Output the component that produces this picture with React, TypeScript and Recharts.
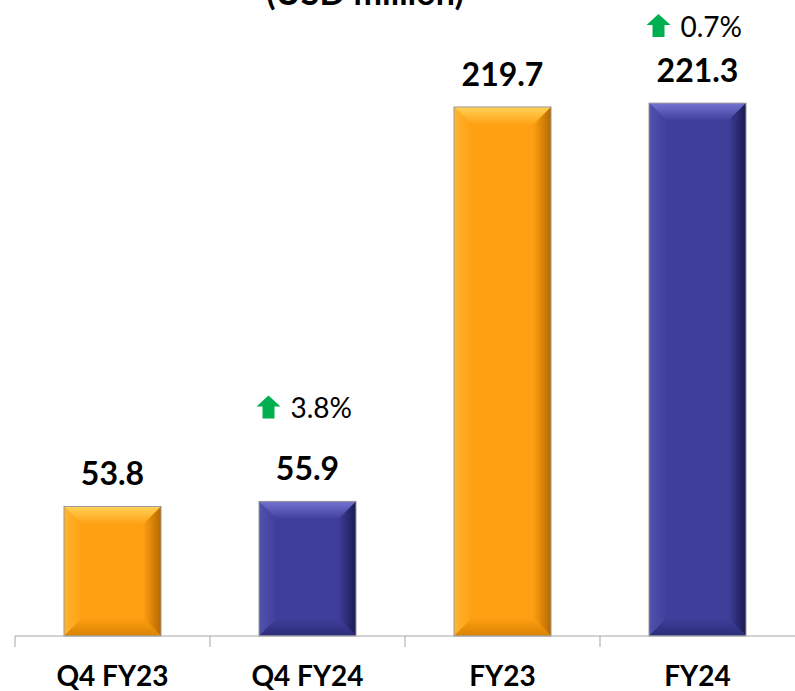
import React from "react";
import { Bar, BarChart, Customized, LabelList, XAxis, YAxis } from "recharts";

const CATEGORIES = ["Q4 FY23", "Q4 FY24", "FY23", "FY24"];
const VALUES = [53.8, 55.9, 219.7, 221.3];
const CHANGES: (number | null)[] = [null, 3.8, null, 0.7];

const W = 795;
const H = 691;
const LEFT = 15;
const TOP = 34;
const XAXIS_H = 55;
const AXIS_Y = H - XAXIS_H;
const BAND = (W - LEFT) / CATEGORIES.length;
const FONT = "Lato, 'Open Sans', sans-serif";
// distance from value baseline up to the % change baseline, per bar
const PCT_GAP = [0, 62, 0, 45];

const TONES = [
  { face: "#FFA012", top: "#FFD257", left: "#FFB530", right: "#B56800", bottom: "#D88300" },
  { face: "#3F3F9B", top: "#7474D0", left: "#5151AE", right: "#1A1A52", bottom: "#2C2C78" },
];

const data = CATEGORIES.map((name, i) => ({ name, value: VALUES[i], change: CHANGES[i] }));

function BevelBar(props: any) {
  const { x, y, width, height, index } = props;
  if (!height || height <= 0) return null;
  const t = TONES[index % 2];
  const b = Math.min(18, width / 2, height / 2);
  const x2 = x + width;
  const y2 = y + height;
  const id = `bv${index}`;
  return (
    <g>
      <defs>
        <linearGradient id={`${id}t`} x1="0" y1="0" x2="0" y2="1">
          <stop offset="0" stopColor={t.top} />
          <stop offset="1" stopColor={t.face} />
        </linearGradient>
        <linearGradient id={`${id}l`} x1="0" y1="0" x2="1" y2="0">
          <stop offset="0" stopColor={t.left} />
          <stop offset="1" stopColor={t.face} />
        </linearGradient>
        <linearGradient id={`${id}r`} x1="0" y1="0" x2="1" y2="0">
          <stop offset="0" stopColor={t.face} />
          <stop offset="1" stopColor={t.right} />
        </linearGradient>
        <linearGradient id={`${id}b`} x1="0" y1="0" x2="0" y2="1">
          <stop offset="0" stopColor={t.face} />
          <stop offset="1" stopColor={t.bottom} />
        </linearGradient>
      </defs>
      <rect x={x} y={y} width={width} height={height} fill={t.face} />
      <polygon points={`${x},${y} ${x2},${y} ${x2 - b},${y + b} ${x + b},${y + b}`} fill={`url(#${id}t)`} />
      <polygon points={`${x},${y} ${x + b},${y + b} ${x + b},${y2 - b} ${x},${y2}`} fill={`url(#${id}l)`} />
      <polygon points={`${x2},${y} ${x2},${y2} ${x2 - b},${y2 - b} ${x2 - b},${y + b}`} fill={`url(#${id}r)`} />
      <polygon points={`${x},${y2} ${x + b},${y2 - b} ${x2 - b},${y2 - b} ${x2},${y2}`} fill={`url(#${id}b)`} />
      <rect x={x} y={y} width={width} height={height} fill="none" stroke="#9A9A9A" strokeWidth={1} />
    </g>
  );
}

function ValueLabel(props: any) {
  const { x, y, width, index } = props;
  const cx = x + width / 2;
  const base = y - 21;
  const change = CHANGES[index];
  const pb = base - PCT_GAP[index];
  return (
    <g>
      <text x={cx} y={base} textAnchor="middle" fontFamily={FONT} fontWeight={700} fontSize={32} fill="#000">
        {VALUES[index].toFixed(1)}
      </text>
      {change != null ? (
        <g>
          <polygon
            points={[
              [cx - 39, pb - 23],
              [cx - 27, pb - 12],
              [cx - 33, pb - 12],
              [cx - 33, pb],
              [cx - 45, pb],
              [cx - 45, pb - 12],
              [cx - 51, pb - 12],
            ]
              .map((p) => p.join(","))
              .join(" ")}
            fill="#00B050"
          />
          <text x={cx - 17} y={pb} textAnchor="start" fontFamily={FONT} fontSize={28} fill="#000">
            {`${change.toFixed(1)}%`}
          </text>
        </g>
      ) : null}
    </g>
  );
}

function CategoryTick(props: any) {
  const { x, payload } = props;
  const left = x - BAND / 2;
  return (
    <g>
      <line x1={left} y1={AXIS_Y} x2={left} y2={AXIS_Y + 11} stroke="#A6A6A6" strokeWidth={1} />
      <text x={x} y={686} textAnchor="middle" fontFamily={FONT} fontWeight={700} fontSize={28} fill="#000">
        {payload.value}
      </text>
    </g>
  );
}

function Title() {
  return (
    <text x={365} y={5} textAnchor="middle" fontFamily={FONT} fontWeight={700} fontSize={34} fill="#000">
      (USD million)
    </text>
  );
}

export default function App() {
  return (
    <div style={{ position: "absolute", left: 0, top: 0, width: W, height: H, background: "#fff", overflow: "hidden" }}>
      <BarChart width={W} height={H} data={data} margin={{ top: TOP, right: 0, bottom: 0, left: LEFT }}>
        <XAxis
          dataKey="name"
          height={XAXIS_H}
          axisLine={{ stroke: "#A6A6A6" }}
          tickLine={false}
          tick={<CategoryTick />}
          interval={0}
        />
        <YAxis hide domain={[0, 250]} />
        <Bar dataKey="value" barSize={97} shape={<BevelBar />} isAnimationActive={false}>
          <LabelList dataKey="value" content={<ValueLabel />} />
        </Bar>
        <Customized component={<Title />} />
      </BarChart>
    </div>
  );
}
